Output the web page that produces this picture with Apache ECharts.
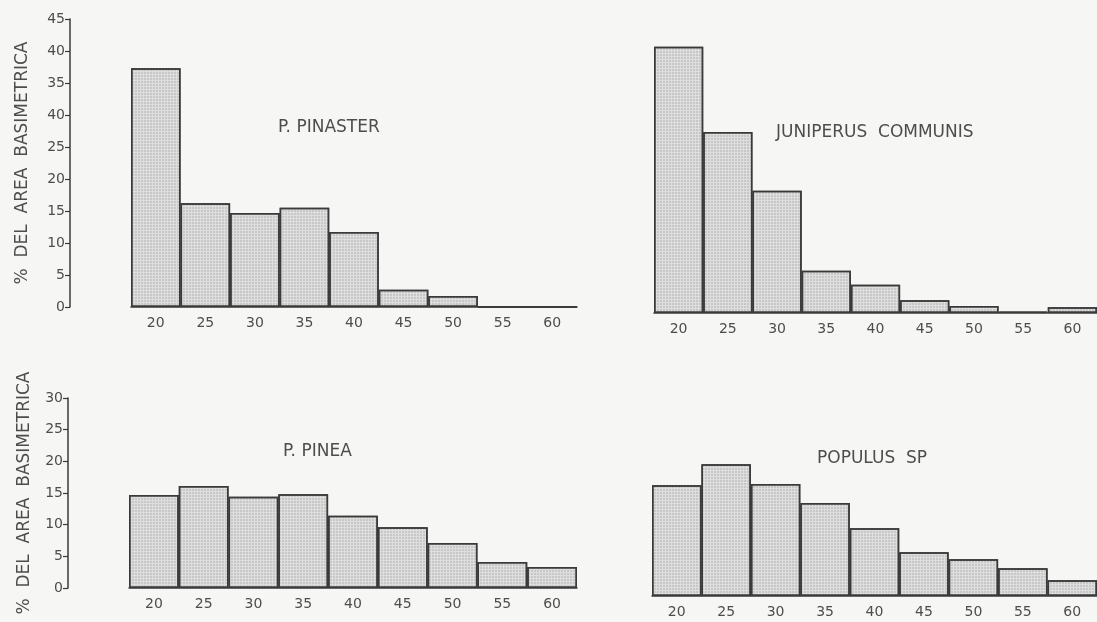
<!DOCTYPE html>
<html>
<head>
<meta charset="utf-8">
<script src="https://cdn.jsdelivr.net/npm/echarts@6/dist/echarts.min.js"></script>
<style>
  html, body { margin: 0; padding: 0; background: #f6f6f4; }
  #chart { width: 1097px; height: 622px; }
</style>
</head>
<body>
<div id="chart"></div>
<script>
// diameter classes (cm)
const classes = ['20', '25', '30', '35', '40', '45', '50', '55', '60']
// % del area basimetrica per species
const pinaster = [37.3, 16.2, 14.7, 15.5, 11.7, 2.7, 1.7, 0, 0]
const juniperus = [41.6, 28.3, 19.1, 6.6, 4.4, 2.0, 1.1, 0.2, 0.9]
const pinea = [14.7, 16.1, 14.4, 14.8, 11.4, 9.6, 7.1, 4.1, 3.3]
const populus = [17.5, 20.8, 17.7, 14.7, 10.7, 6.9, 5.8, 4.4, 2.5]
// y tick labels as printed (upper scale has a misprinted 30)
const yLabelsTop = ['0', '5', '10', '15', '20', '25', '40', '35', '40', '45']
const yLabelsBottom = ['0', '5', '10', '15', '20', '25', '30']

const ink = '#3a3a3a'
const textColor = '#4d4d4d'
const font = 'DejaVu Sans'
const yName = '%  DEL  AREA  BASIMETRICA'

const barStyle = {
  color: '#dedede',
  borderColor: ink,
  borderWidth: 1.5,
  decal: {
    symbol: 'rect',
    symbolSize: 0.7,
    color: 'rgba(80,80,80,0.3)',
    dashArrayX: [2, 1],
    dashArrayY: [2, 1],
    rotation: 0
  }
}

function xAxis(gridIndex) {
  return {
    type: 'category',
    gridIndex: gridIndex,
    data: classes,
    axisLine: { lineStyle: { color: ink, width: 1.5 } },
    axisTick: { show: false },
    axisLabel: { color: textColor, fontFamily: font, fontSize: 14, margin: 9 }
  }
}

function yAxis(gridIndex, max, labels, visible, gap) {
  return {
    type: 'value',
    gridIndex: gridIndex,
    min: 0,
    max: max,
    interval: 5,
    show: visible,
    offset: 61,
    name: yName,
    nameLocation: 'middle',
    nameGap: gap,
    nameTextStyle: { color: textColor, fontFamily: font, fontSize: 17 },
    splitLine: { show: false },
    axisLine: { show: true, lineStyle: { color: ink, width: 1.5 } },
    axisTick: { show: true, length: 5, lineStyle: { color: ink, width: 1.2 } },
    axisLabel: {
      color: textColor,
      fontFamily: font,
      fontSize: 14,
      margin: 5,
      formatter(v) {
        return labels[Math.round(v / 5)]
      }
    }
  }
}

function bars(index, data) {
  return {
    type: 'bar',
    xAxisIndex: index,
    yAxisIndex: index,
    data: data,
    barCategoryGap: 0,
    itemStyle: barStyle,
    silent: true
  }
}

function label(text, left, top) {
  return {
    text: text,
    left: left,
    top: top,
    padding: 0,
    textStyle: { color: textColor, fontFamily: font, fontSize: 17, fontWeight: 'normal' }
  }
}

const chart = echarts.init(document.getElementById('chart'))
chart.setOption({
  backgroundColor: '#f6f6f4',
  animation: false,
  title: [
    label('P. PINASTER', 278, 119),
    label('JUNIPERUS  COMMUNIS', 776, 124),
    label('P. PINEA', 283, 443),
    label('POPULUS  SP', 817, 450)
  ],
  grid: [
    { left: 131, top: 19, width: 446, height: 288 },
    { left: 654, top: 25, width: 446, height: 288 },
    { left: 129, top: 398, width: 448, height: 190 },
    { left: 652, top: 406, width: 448, height: 190 }
  ],
  xAxis: [xAxis(0), xAxis(1), xAxis(2), xAxis(3)],
  yAxis: [
    yAxis(0, 45, yLabelsTop, true, 39),
    yAxis(1, 45, yLabelsTop, false, 39),
    yAxis(2, 30, yLabelsBottom, true, 35),
    yAxis(3, 30, yLabelsBottom, false, 35)
  ],
  series: [
    bars(0, pinaster),
    bars(1, juniperus),
    bars(2, pinea),
    bars(3, populus)
  ]
})
</script>
</body>
</html>
